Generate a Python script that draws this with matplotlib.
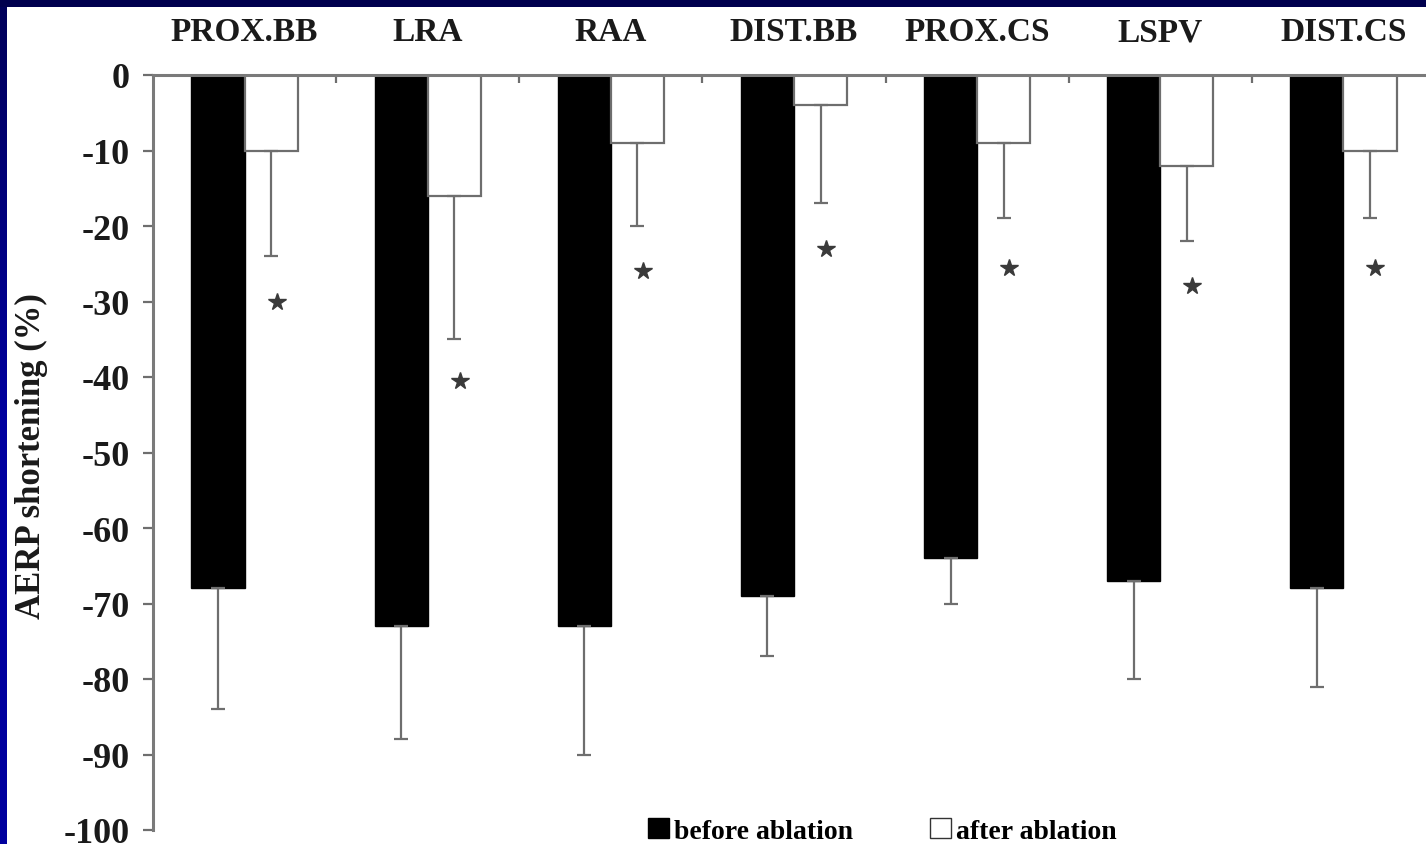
import numpy as np
import matplotlib
matplotlib.use("Agg")
import matplotlib.pyplot as plt
from matplotlib.patches import Patch
from matplotlib.colors import LinearSegmentedColormap

plt.rcParams["font.family"] = ["Liberation Serif", "DejaVu Serif"]
plt.rcParams["font.weight"] = "bold"
plt.rcParams["axes.labelweight"] = "bold"
plt.rcParams["axes.unicode_minus"] = False

# AERP shortening (%) per recording site
sites = ["PROX.BB", "LRA", "RAA", "DIST.BB", "PROX.CS", "LSPV", "DIST.CS"]
before_mean = [-68, -73, -73, -69, -64, -67, -68]
before_sd = [16, 15, 17, 8, 6, 13, 13]
after_mean = [-10, -16, -9, -4, -9, -12, -10]
after_sd = [14, 19, 11, 13, 10, 10, 9]
star_y = [-30, -40.5, -26, -23, -25.5, -28, -25.5]
yticks = list(range(-100, 1, 10))

W, H, DPI = 1426, 845, 100
fig = plt.figure(figsize=(W / DPI, H / DPI), dpi=DPI, facecolor="white")

# frame bands along the top and left edges
top = fig.add_axes([0, 1 - 8 / H, 1, 8 / H])
top.set_axis_off()
top.add_patch(plt.Rectangle((0, 0), 1, 1, color="#00004e", transform=top.transAxes))
side = fig.add_axes([0, 0, 7 / W, 1 - 8 / H])
grad = np.linspace(0, 1, 256).reshape(-1, 1)
cmap = LinearSegmentedColormap.from_list("edge", ["#00009e", "#0000a0", "#00005a"])
side.imshow(grad, aspect="auto", cmap=cmap, origin="lower", extent=[0, 1, 0, 1])
side.set_axis_off()

x0, x1 = 153, 1435
y0, y1 = 76, 831
ax = fig.add_axes([x0 / W, 1 - y1 / H, (x1 - x0) / W, (y1 - y0) / H])

x = np.arange(len(sites))
bw = 0.29
gray = "#6e6e6e"

ax.bar(x - bw / 2, before_mean, bw, color="black", edgecolor="black", linewidth=1)
ax.bar(x + bw / 2, after_mean, bw, color="white", edgecolor=gray, linewidth=1.6)

ax.errorbar(x - bw / 2, before_mean, yerr=[before_sd, np.zeros(len(x))], fmt="none",
            ecolor=gray, elinewidth=1.6, capsize=5, capthick=1.6)
ax.errorbar(x + bw / 2, after_mean, yerr=[after_sd, np.zeros(len(x))], fmt="none",
            ecolor=gray, elinewidth=1.6, capsize=5, capthick=1.6)

ax.plot(x + bw / 2 + 0.03, star_y, linestyle="none", marker="*", markersize=13,
        color="#3a3a3a")

ax.set_xlim(-0.5, 6.5)
ax.set_ylim(-100, 0)

for s in ["right", "bottom"]:
    ax.spines[s].set_visible(False)
for s in ["left", "top"]:
    ax.spines[s].set_color("#7a7a7a")
    ax.spines[s].set_linewidth(2.2)

ax.set_yticks(yticks)
ax.set_yticklabels([str(v) for v in yticks])
ax.tick_params(axis="y", direction="out", length=7, width=1.6, color=gray,
               pad=10, labelsize=26, labelcolor="#1a1a1a")

ax.xaxis.tick_top()
ax.set_xticks(x)
ax.set_xticklabels(sites)
ax.set_xticks(x[:-1] + 0.5, minor=True)
ax.tick_params(axis="x", which="major", length=0, pad=20, labelsize=24,
               labelcolor="#1a1a1a")
ax.tick_params(axis="x", which="minor", direction="in", length=6, width=1.6,
               color=gray, top=True)

ax.set_ylabel("AERP shortening (%)", fontsize=25, fontweight="bold", color="#1a1a1a")
ax.yaxis.set_label_coords(-(153 - 48) / (x1 - x0), 1 - (456 - y0) / (y1 - y0))

handles = [Patch(facecolor="black", edgecolor="black", label="before ablation"),
           Patch(facecolor="white", edgecolor="#333333", label="after ablation")]
fig.legend(handles=handles, loc="center left", bbox_to_anchor=(648 / W, 1 - 832 / H),
           ncol=2, frameon=False, fontsize=20, handlelength=0.75, handleheight=0.75,
           handletextpad=0.2, columnspacing=2.75, borderpad=0, borderaxespad=0)

fig.savefig("out.png", dpi=DPI, facecolor="white")
